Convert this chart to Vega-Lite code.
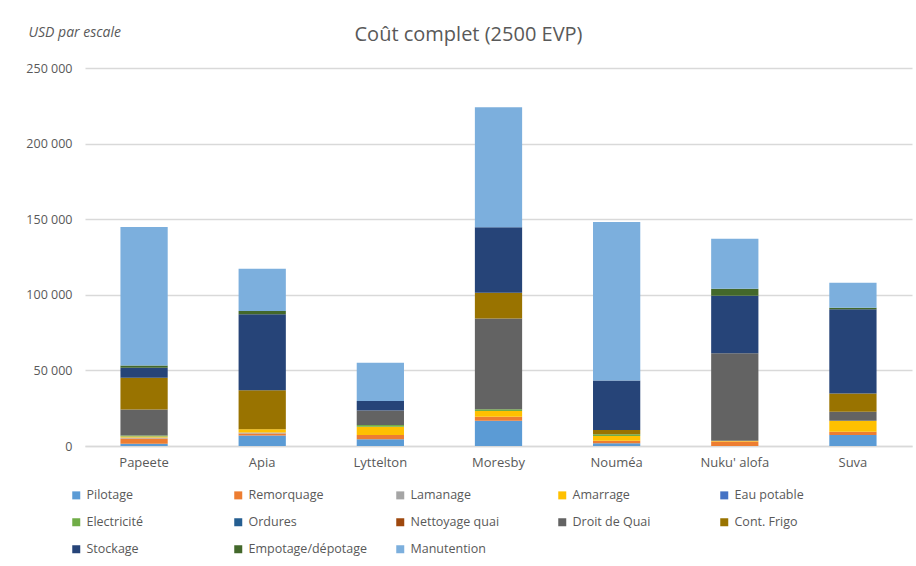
{
  "$schema": "https://vega.github.io/schema/vega-lite/v6.json",
  "width": 827,
  "height": 378,
  "autosize": {"type": "none"},
  "padding": {"left": 85, "top": 68, "right": 4, "bottom": 120},
  "background": "white",
  "title": {
    "text": "Coût complet (2500 EVP)",
    "font": "Open Sans",
    "fontSize": 20,
    "fontWeight": "normal",
    "color": "#595959",
    "anchor": "middle",
    "dx": -30,
    "offset": -20
  },
  "data": {
    "values": [
      {"port": "Papeete", "poste": "Pilotage", "k": 1, "usd": 1500},
      {"port": "Papeete", "poste": "Remorquage", "k": 2, "usd": 3500},
      {"port": "Papeete", "poste": "Lamanage", "k": 3, "usd": 600},
      {"port": "Papeete", "poste": "Amarrage", "k": 4, "usd": 700},
      {"port": "Papeete", "poste": "Electricité", "k": 6, "usd": 700},
      {"port": "Papeete", "poste": "Droit de Quai", "k": 9, "usd": 17200},
      {"port": "Papeete", "poste": "Cont. Frigo", "k": 10, "usd": 20900},
      {"port": "Papeete", "poste": "Stockage", "k": 11, "usd": 6600},
      {"port": "Papeete", "poste": "Empotage/dépotage", "k": 12, "usd": 1600},
      {"port": "Papeete", "poste": "Manutention", "k": 13, "usd": 91500},

      {"port": "Apia", "poste": "Pilotage", "k": 1, "usd": 7000},
      {"port": "Apia", "poste": "Remorquage", "k": 2, "usd": 1200},
      {"port": "Apia", "poste": "Lamanage", "k": 3, "usd": 800},
      {"port": "Apia", "poste": "Amarrage", "k": 4, "usd": 2000},
      {"port": "Apia", "poste": "Cont. Frigo", "k": 10, "usd": 25800},
      {"port": "Apia", "poste": "Stockage", "k": 11, "usd": 50300},
      {"port": "Apia", "poste": "Empotage/dépotage", "k": 12, "usd": 2200},
      {"port": "Apia", "poste": "Manutention", "k": 13, "usd": 28000},

      {"port": "Lyttelton", "poste": "Pilotage", "k": 1, "usd": 4400},
      {"port": "Lyttelton", "poste": "Remorquage", "k": 2, "usd": 2900},
      {"port": "Lyttelton", "poste": "Amarrage", "k": 4, "usd": 5500},
      {"port": "Lyttelton", "poste": "Electricité", "k": 6, "usd": 1100},
      {"port": "Lyttelton", "poste": "Droit de Quai", "k": 9, "usd": 9500},
      {"port": "Lyttelton", "poste": "Stockage", "k": 11, "usd": 6400},
      {"port": "Lyttelton", "poste": "Manutention", "k": 13, "usd": 25300},

      {"port": "Moresby", "poste": "Pilotage", "k": 1, "usd": 16700},
      {"port": "Moresby", "poste": "Remorquage", "k": 2, "usd": 2700},
      {"port": "Moresby", "poste": "Amarrage", "k": 4, "usd": 3700},
      {"port": "Moresby", "poste": "Electricité", "k": 6, "usd": 1200},
      {"port": "Moresby", "poste": "Droit de Quai", "k": 9, "usd": 60100},
      {"port": "Moresby", "poste": "Cont. Frigo", "k": 10, "usd": 17000},
      {"port": "Moresby", "poste": "Stockage", "k": 11, "usd": 43200},
      {"port": "Moresby", "poste": "Manutention", "k": 13, "usd": 79400},

      {"port": "Nouméa", "poste": "Pilotage", "k": 1, "usd": 1800},
      {"port": "Nouméa", "poste": "Remorquage", "k": 2, "usd": 1700},
      {"port": "Nouméa", "poste": "Amarrage", "k": 4, "usd": 3100},
      {"port": "Nouméa", "poste": "Electricité", "k": 6, "usd": 1100},
      {"port": "Nouméa", "poste": "Cont. Frigo", "k": 10, "usd": 2900},
      {"port": "Nouméa", "poste": "Stockage", "k": 11, "usd": 32800},
      {"port": "Nouméa", "poste": "Manutention", "k": 13, "usd": 104700},

      {"port": "Nuku' alofa", "poste": "Remorquage", "k": 2, "usd": 3000},
      {"port": "Nuku' alofa", "poste": "Amarrage", "k": 4, "usd": 500},
      {"port": "Nuku' alofa", "poste": "Droit de Quai", "k": 9, "usd": 57800},
      {"port": "Nuku' alofa", "poste": "Stockage", "k": 11, "usd": 38100},
      {"port": "Nuku' alofa", "poste": "Empotage/dépotage", "k": 12, "usd": 4600},
      {"port": "Nuku' alofa", "poste": "Manutention", "k": 13, "usd": 33100},

      {"port": "Suva", "poste": "Pilotage", "k": 1, "usd": 7300},
      {"port": "Suva", "poste": "Remorquage", "k": 2, "usd": 2200},
      {"port": "Suva", "poste": "Amarrage", "k": 4, "usd": 7200},
      {"port": "Suva", "poste": "Droit de Quai", "k": 9, "usd": 6000},
      {"port": "Suva", "poste": "Cont. Frigo", "k": 10, "usd": 12100},
      {"port": "Suva", "poste": "Stockage", "k": 11, "usd": 55600},
      {"port": "Suva", "poste": "Empotage/dépotage", "k": 12, "usd": 1100},
      {"port": "Suva", "poste": "Manutention", "k": 13, "usd": 16500}
    ]
  },
  "mark": {"type": "bar"},
  "encoding": {
    "x": {
      "field": "port",
      "type": "nominal",
      "sort": ["Papeete", "Apia", "Lyttelton", "Moresby", "Nouméa", "Nuku' alofa", "Suva"],
      "scale": {"paddingInner": 0.6, "paddingOuter": 0.3},
      "axis": {
        "title": null,
        "labelAngle": 0,
        "labelFont": "Open Sans",
        "labelFontSize": 13,
        "labelColor": "#595959",
        "labelPadding": 10,
        "ticks": false,
        "domainColor": "#D9D9D9",
        "domainWidth": 1.5
      }
    },
    "y": {
      "field": "usd",
      "type": "quantitative",
      "stack": "zero",
      "scale": {"domain": [0, 250000], "nice": false},
      "axis": {
        "title": "USD par escale",
        "titleFont": "Open Sans",
        "titleFontSize": 14,
        "titleFontStyle": "italic",
        "titleFontWeight": "normal",
        "titleColor": "#595959",
        "titleAngle": 0,
        "titleAlign": "left",
        "titleBaseline": "middle",
        "titleX": -57,
        "titleY": -36,
        "values": [0, 50000, 100000, 150000, 200000, 250000],
        "labelExpr": "replace(format(datum.value, ','), ',', ' ')",
        "labelFont": "Open Sans",
        "labelFontSize": 12.5,
        "labelColor": "#595959",
        "labelPadding": 13,
        "ticks": false,
        "domain": false,
        "grid": true,
        "gridColor": "#D9D9D9",
        "gridWidth": 1.5
      }
    },
    "color": {
      "field": "poste",
      "type": "nominal",
      "scale": {
        "domain": ["Pilotage", "Remorquage", "Lamanage", "Amarrage", "Eau potable", "Electricité", "Ordures", "Nettoyage quai", "Droit de Quai", "Cont. Frigo", "Stockage", "Empotage/dépotage", "Manutention"],
        "range": ["#5B9BD5", "#ED7D31", "#A5A5A5", "#FFC000", "#4472C4", "#70AD47", "#255E91", "#9E480E", "#636363", "#997300", "#264478", "#43682B", "#7CAFDD"]
      },
      "legend": {
        "title": null,
        "orient": "none",
        "legendX": -15,
        "legendY": 421,
        "direction": "horizontal",
        "columns": 5,
        "gridAlign": "all",
        "columnPadding": 26,
        "rowPadding": 14,
        "symbolType": "square",
        "symbolSize": 64,
        "symbolStrokeWidth": 0,
        "labelFont": "Open Sans",
        "labelFontSize": 12.5,
        "labelColor": "#595959",
        "labelOffset": 4,
        "labelLimit": 200,
        "padding": 0
      }
    },
    "order": {"field": "k", "type": "quantitative", "sort": "ascending"}
  },
  "config": {
    "view": {"stroke": null}
  }
}
